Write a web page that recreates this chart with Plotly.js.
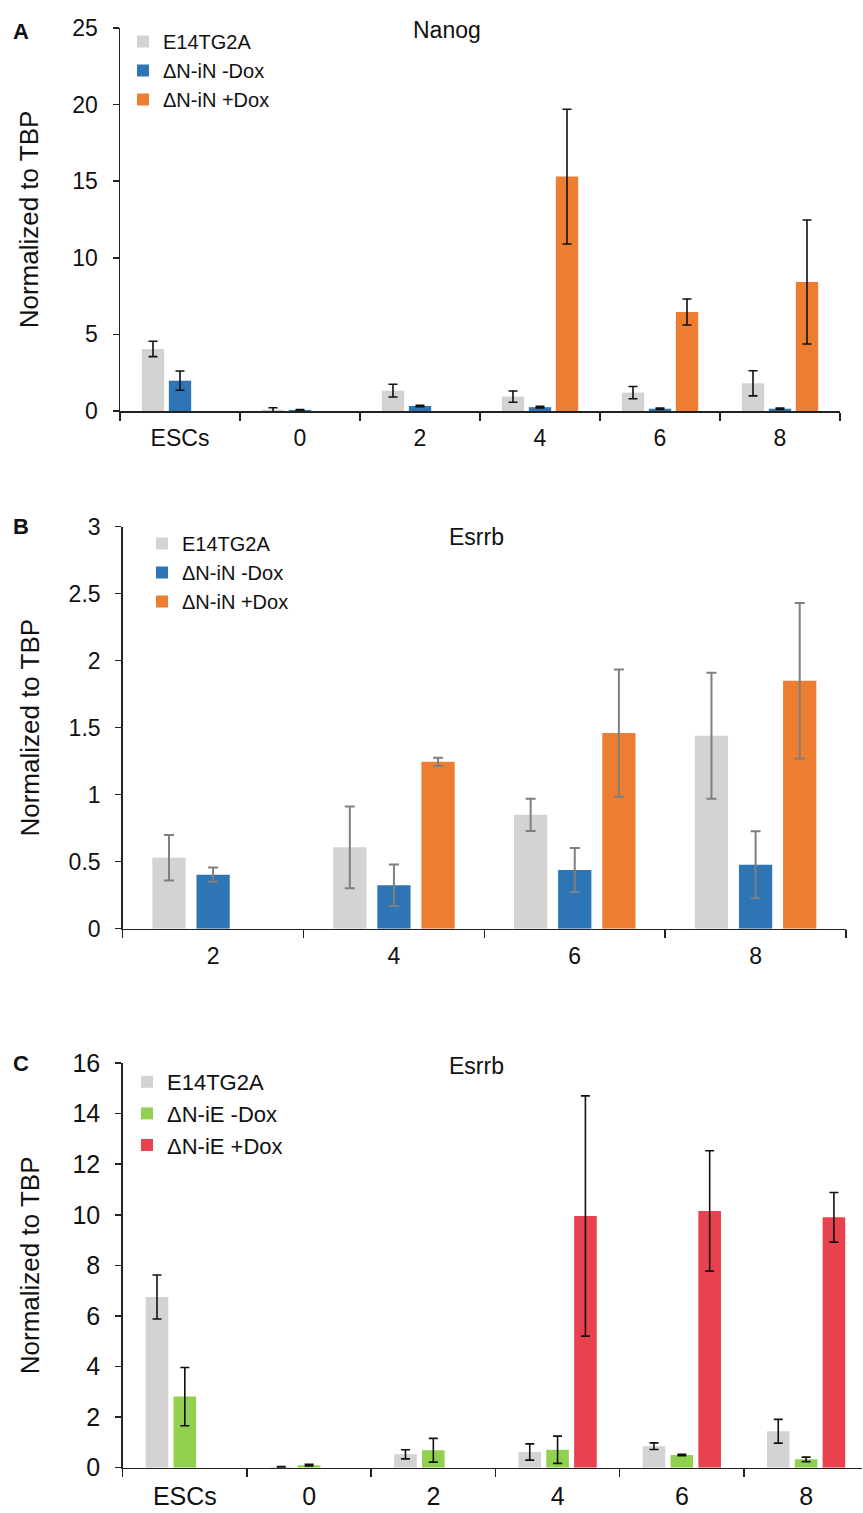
<!DOCTYPE html>
<html>
<head>
<meta charset="utf-8">
<script src="https://cdn.plot.ly/plotly-3.0.1.min.js"></script>
<style>
html,body{margin:0;padding:0;background:#fff;overflow:hidden;}
#chart{width:863px;height:1513px;}
</style>
</head>
<body>
<div id="chart"></div>
<script>
// ---------- data ----------
const catsA = ['ESCs', '0', '2', '4', '6', '8'];
const nanogE14 = [4.05, 0.08, 1.33, 0.94, 1.2, 1.81];
const nanogE14Err = [0.5, 0.13, 0.42, 0.37, 0.4, 0.82];
const nanogMinusDox = [1.98, 0.07, 0.33, 0.25, 0.15, 0.15];
const nanogMinusDoxErr = [0.63, 0.03, 0.05, 0.05, 0.05, 0.05];
const nanogPlusDox = [null, null, null, 15.3, 6.46, 8.42];
const nanogPlusDoxErr = [0, 0, 0, 4.4, 0.85, 4.05];

const catsB = ['2', '4', '6', '8'];
const esrrbE14 = [0.53, 0.607, 0.85, 1.44];
const esrrbE14Err = [0.17, 0.305, 0.12, 0.47];
const esrrbMinusDox = [0.403, 0.324, 0.438, 0.478];
const esrrbMinusDoxErr = [0.053, 0.155, 0.164, 0.25];
const esrrbPlusDox = [null, 1.245, 1.46, 1.85];
const esrrbPlusDoxErr = [0, 0.03, 0.475, 0.58];

const catsC = ['ESCs', '0', '2', '4', '6', '8'];
const iEE14 = [6.75, 0.03, 0.53, 0.62, 0.85, 1.44];
const iEE14Err = [0.87, 0.02, 0.18, 0.32, 0.13, 0.47];
const iEMinusDox = [2.81, 0.1, 0.69, 0.71, 0.5, 0.33];
const iEMinusDoxErr = [1.15, 0.03, 0.47, 0.54, 0.03, 0.09];
const iEPlusDox = [null, null, null, 9.95, 10.15, 9.9];
const iEPlusDoxErr = [0, 0, 0, 4.75, 2.38, 0.98];

const namesA = ['E14TG2A', '\u0394N-iN -Dox', '\u0394N-iN +Dox'];
const namesC = ['E14TG2A', '\u0394N-iE -Dox', '\u0394N-iE +Dox'];
const yTitle = 'Normalized to TBP';

// ---------- styling ----------
const W = 863, H = 1513;
const px = x => x / W;
const py = y => 1 - y / H;
const FONT = 'Liberation Sans, Arial, Helvetica, sans-serif';
const GREY = '#d3d3d3', BLUE = '#2e75b6', ORANGE = '#ed7d31', GREEN = '#92d050', RED = '#e8424f';

function bar(x, y, err, name, color, xa, ya, leg, off, w, errColor, thick, cap) {
  return {
    type: 'bar', x: x, y: y, name: name, xaxis: xa, yaxis: ya, legend: leg,
    legendgroup: name + xa,
    marker: {color: color, line: {width: 0}},
    offset: off, width: w,
    error_y: {type: 'data', array: err, visible: true, color: errColor, thickness: thick, width: cap},
    hoverinfo: 'skip'
  };
}

const data = [
  bar(catsA, nanogE14, nanogE14Err, namesA[0], GREY, 'x', 'y', 'legend', -0.318, 0.186, '#111', 1.6, 4.5),
  bar(catsA, nanogMinusDox, nanogMinusDoxErr, namesA[1], BLUE, 'x', 'y', 'legend', -0.093, 0.186, '#111', 1.6, 4.5),
  bar(catsA, nanogPlusDox, nanogPlusDoxErr, namesA[2], ORANGE, 'x', 'y', 'legend', 0.132, 0.186, '#111', 1.6, 4.5),

  bar(catsB, esrrbE14, esrrbE14Err, namesA[0], GREY, 'x2', 'y2', 'legend2', -0.336, 0.184, '#7f7f7f', 2, 5),
  bar(catsB, esrrbMinusDox, esrrbMinusDoxErr, namesA[1], BLUE, 'x2', 'y2', 'legend2', -0.092, 0.184, '#7f7f7f', 2, 5),
  bar(catsB, esrrbPlusDox, esrrbPlusDoxErr, namesA[2], ORANGE, 'x2', 'y2', 'legend2', 0.152, 0.184, '#7f7f7f', 2, 5),

  bar(catsC, iEE14, iEE14Err, namesC[0], GREY, 'x3', 'y3', 'legend3', -0.315, 0.182, '#111', 1.6, 4.5),
  bar(catsC, iEMinusDox, iEMinusDoxErr, namesC[1], GREEN, 'x3', 'y3', 'legend3', -0.091, 0.182, '#111', 1.6, 4.5),
  bar(catsC, iEPlusDox, iEPlusDoxErr, namesC[2], RED, 'x3', 'y3', 'legend3', 0.133, 0.182, '#111', 1.6, 4.5)
];

function xAxis(cats, dom, range, anchor, fs) {
  return {
    type: 'category', categoryorder: 'array', categoryarray: cats,
    domain: dom, range: range, anchor: anchor,
    showline: true, linecolor: '#222', linewidth: 1.5,
    ticks: 'outside', tickson: 'boundaries', ticklen: 8, tickwidth: 1.5, tickcolor: '#222',
    showgrid: false, zeroline: false, fixedrange: true,
    tickfont: {family: FONT, size: fs, color: '#111'},
    ticklabelstandoff: 6
  };
}
function yAxis(dom, range, dtick, anchor, fs, tfs, so) {
  return {
    domain: dom, range: range, dtick: dtick, anchor: anchor,
    showline: true, linecolor: '#222', linewidth: 1.5,
    ticks: 'outside', ticklen: 6, tickwidth: 1.5, tickcolor: '#222',
    showgrid: false, zeroline: false, fixedrange: true,
    tickfont: {family: FONT, size: fs, color: '#111'},
    ticklabelstandoff: 10,
    title: {text: yTitle, font: {family: FONT, size: tfs, color: '#111'}, standoff: so}
  };
}
function legend(xp, yp, gap, fs) {
  return {
    x: px(xp), y: py(yp), xanchor: 'left', yanchor: 'top',
    bgcolor: 'rgba(0,0,0,0)', borderwidth: 0,
    font: {family: FONT, size: fs, color: '#111'},
    tracegroupgap: gap, traceorder: 'normal', itemclick: false
  };
}
function ann(text, xp, yp, fs, bold) {
  return {
    text: bold ? '<b>' + text + '</b>' : text, xref: 'paper', yref: 'paper',
    x: px(xp), y: py(yp), xanchor: 'center', yanchor: 'middle', showarrow: false,
    font: {family: FONT, size: fs, color: '#111'}
  };
}

const layout = {
  width: W, height: H,
  margin: {l: 0, r: 0, t: 0, b: 0},
  paper_bgcolor: '#fff', plot_bgcolor: '#fff',
  barmode: 'overlay',
  showlegend: true,
  xaxis: xAxis(catsA, [px(120), px(840)], [-0.5, 5.5], 'y', 23),
  yaxis: yAxis([py(411), py(28)], [0, 25], 5, 'x', 23, 26, 26),
  xaxis2: xAxis(catsB, [px(122.7), px(846)], [-0.5, 3.5], 'y2', 23),
  yaxis2: yAxis([py(928.7), py(526.7)], [0, 3], 0.5, 'x2', 23, 26, 21),
  xaxis3: xAxis(catsC, [px(122.7), px(862)], [-0.5, 5.45], 'y3', 25),
  yaxis3: yAxis([py(1467.7), py(1063)], [0, 16], 2, 'x3', 25, 26, 25),
  legend: legend(123, 22, 0, 20),
  legend2: legend(142, 524, 4, 20),
  legend3: legend(127, 1061, 8, 22),
  annotations: [
    ann('A', 21, 31, 22, true),
    ann('B', 21, 526, 22, true),
    ann('C', 21, 1063, 22, true),
    ann('Nanog', 447, 30, 23, false),
    ann('Esrrb', 476, 537, 23, false),
    ann('Esrrb', 476, 1066, 23, false)
  ]
};

Plotly.newPlot('chart', data, layout, {displayModeBar: false, staticPlot: true});
</script>
</body>
</html>
